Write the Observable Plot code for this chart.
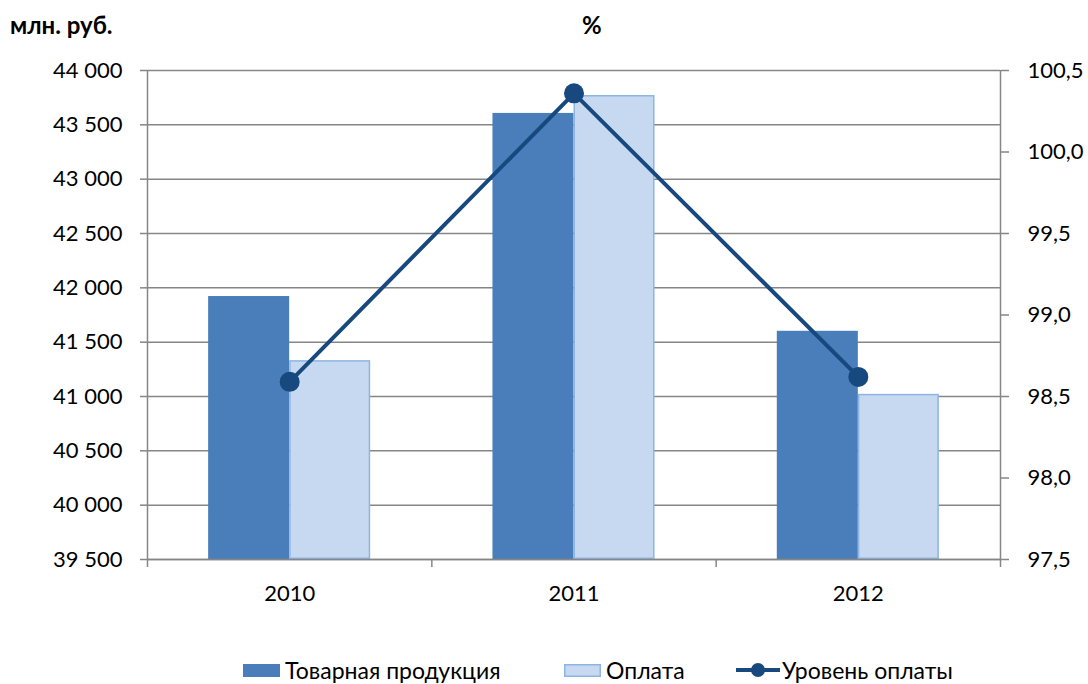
<!DOCTYPE html>
<html><head><meta charset="utf-8">
<script src="https://cdn.jsdelivr.net/npm/d3@7"></script>
<script src="https://cdn.jsdelivr.net/npm/@observablehq/plot@0.6"></script>
<style>
body{margin:0;background:#fff;font-family:Lato, "Open Sans", sans-serif;}
#wrap{position:relative;width:1088px;height:684px;overflow:hidden;}
.t{position:absolute;font-weight:bold;font-size:24px;line-height:1;}
.lg{position:absolute;top:657px;height:26px;display:flex;align-items:center;font-size:23px;white-space:nowrap;}
.lg svg{margin-right:5px;}
</style></head><body>
<div id="wrap">
<div id="chart" style="position:absolute;left:0;top:0"></div>
<div class="t" style="left:10px;top:13px">млн. руб.</div>
<div class="t" style="left:582px;top:13px">%</div>
<div class="lg" style="left:243px"><svg width="37" height="13"><rect x="0" y="0" width="37" height="13" fill="#4a7ebb"/></svg>Товарная продукция</div>
<div class="lg" style="left:564px"><svg width="37" height="13"><rect x="0.75" y="0.75" width="35.5" height="11.5" fill="#c6d9f0" stroke="#8eb4e3" stroke-width="1.5"/></svg>Оплата</div>
<div class="lg" style="left:736px"><svg width="44" height="16" style="margin-right:2px"><line x1="0" y1="8" x2="44" y2="8" stroke="#17497f" stroke-width="4"/><circle cx="22" cy="8" r="7" fill="#17497f"/></svg>Уровень оплаты</div>
</div>
<script>
const years = [2010, 2011, 2012];
const production = [41920, 43605, 41600];
const payment = [41330, 43770, 41020];
const paymentLevel = [98.59, 100.36, 98.62];
const leftTicks = [39500, 40000, 40500, 41000, 41500, 42000, 42500, 43000, 43500, 44000];
const rightTicks = [97.5, 98.0, 98.5, 99.0, 99.5, 100.0, 100.5];

const yMin = 39500, yMax = 44000, pMin = 97.5, pMax = 100.5;
const toLeft = p => yMin + (p - pMin) / (pMax - pMin) * (yMax - yMin);
const toRight = v => pMin + (v - yMin) / (yMax - yMin) * (pMax - pMin);
const half = 0.285;
const axisGray = "#868686";

const prodData = years.map((y, i) => ({year: y, v: production[i]}));
const payData = years.map((y, i) => ({year: y, v: payment[i]}));
const lineData = years.map((y, i) => ({year: y, p: paymentLevel[i]}));
const boundaries = [years[0] - 0.5, ...years.map(y => y + 0.5)];

const fmtLeft = d => d3.format(",")(d).replace(/,/g, " ");
const fmtRight = v => toRight(v).toFixed(1).replace(".", ",");

const chart = Plot.plot({
  width: 1088, height: 620,
  marginTop: 70, marginBottom: 61, marginLeft: 147, marginRight: 88,
  x: {domain: [years[0] - 0.5, years[years.length - 1] + 0.5], label: null},
  y: {domain: [yMin, yMax], label: null},
  style: {fontFamily: "Lato, 'Open Sans', sans-serif", fontSize: "22px", color: "#000", background: "transparent"},
  marks: [
    Plot.gridY(leftTicks, {stroke: axisGray, strokeOpacity: 1, strokeWidth: 1.5}),
    Plot.rectY(prodData, {x1: d => d.year - half, x2: d => d.year, y1: () => yMin, y2: "v", fill: "#4a7ebb"}),
    Plot.rectY(payData, {x1: d => d.year, x2: d => d.year + half, y1: () => yMin, y2: "v", fill: "#c6d9f0", stroke: "#8eb4e3", strokeWidth: 1.5, inset: 0.75}),
    Plot.ruleX([boundaries[0], boundaries[boundaries.length - 1]], {stroke: axisGray, strokeWidth: 1.5}),
    Plot.ruleY([yMin], {stroke: axisGray, strokeWidth: 1.5}),
    Plot.axisY({ticks: leftTicks, tickSize: 7, tickPadding: 18, tickFormat: fmtLeft, stroke: axisGray, strokeWidth: 1.5, label: null}),
    Plot.axisY({anchor: "right", ticks: rightTicks.map(toLeft), tickSize: 8, tickPadding: 19, tickFormat: fmtRight, stroke: axisGray, strokeWidth: 1.5, label: null}),
    Plot.axisX({ticks: boundaries, tickSize: 8, tickFormat: () => "", stroke: axisGray, strokeWidth: 1.5, label: null}),
    Plot.axisX({ticks: years, tickSize: 0, tickPadding: 26, tickFormat: d => String(d), label: null}),
    Plot.line(lineData, {x: "year", y: d => toLeft(d.p), stroke: "#17497f", strokeWidth: 4}),
    Plot.dot(lineData, {x: "year", y: d => toLeft(d.p), r: 10, fill: "#17497f"})
  ]
});
document.getElementById("chart").appendChild(chart);
</script>
</body></html>
